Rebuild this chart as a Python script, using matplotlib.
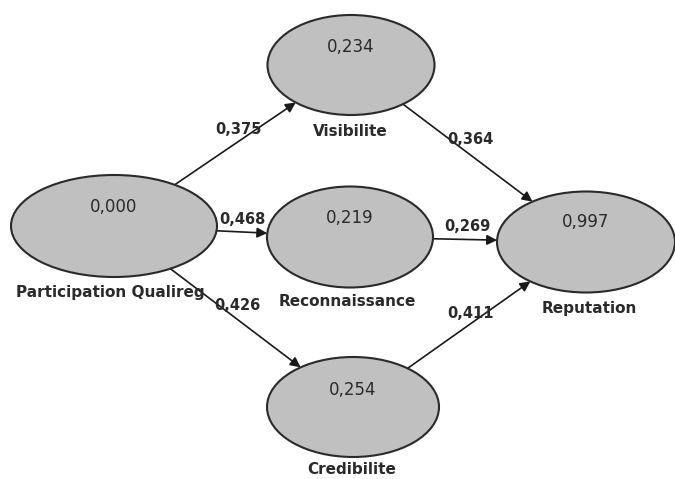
import matplotlib
matplotlib.use("Agg")
import matplotlib.pyplot as plt
from matplotlib.patches import Ellipse
import numpy as np

plt.rcParams['font.family'] = ['DejaVu Sans']

# ---- data ----
nodes = ["Participation Qualireg", "Visibilite", "Reconnaissance", "Credibilite", "Reputation"]
r2_values = ["0,000", "0,234", "0,219", "0,254", "0,997"]
path_from = ["Participation Qualireg", "Participation Qualireg", "Participation Qualireg",
             "Visibilite", "Reconnaissance", "Credibilite"]
path_to = ["Visibilite", "Reconnaissance", "Credibilite", "Reputation", "Reputation", "Reputation"]
path_coefs = ["0,375", "0,468", "0,426", "0,364", "0,269", "0,411"]

# ---- layout (pixel coordinates) ----
centers = {"Participation Qualireg": (114, 226), "Visibilite": (351, 65),
           "Reconnaissance": (350, 237), "Credibilite": (353, 407), "Reputation": (586, 242)}
sizes = {"Participation Qualireg": (206, 102), "Visibilite": (167, 100),
         "Reconnaissance": (166, 101), "Credibilite": (172, 100), "Reputation": (178, 101)}
value_dy = {"Participation Qualireg": -19, "Visibilite": -18, "Reconnaissance": -19,
            "Credibilite": -17, "Reputation": -20}
label_pos = {"Participation Qualireg": (110, 292), "Visibilite": (350, 131),
             "Reconnaissance": (347, 302), "Credibilite": (352, 470), "Reputation": (589, 308)}
coef_pos = [(238, 130), (242, 219), (237, 305), (470, 140), (467, 226), (471, 313)]

fig = plt.figure(figsize=(6.75, 4.79), dpi=100)
ax = fig.add_axes([0, 0, 1, 1])
ax.set_xlim(0, 675)
ax.set_ylim(479, 0)
ax.axis('off')

def boundary(name, direction):
    cx, cy = centers[name]
    a, b = sizes[name][0] / 2, sizes[name][1] / 2
    dx, dy = direction
    t = 1.0 / np.sqrt((dx / a) ** 2 + (dy / b) ** 2)
    return cx + dx * t, cy + dy * t

for name, val in zip(nodes, r2_values):
    cx, cy = centers[name]
    w, h = sizes[name]
    ax.add_patch(Ellipse((cx, cy), w, h, facecolor='#c0c0c0', edgecolor='#2a2a2a', lw=1.5, zorder=2))
    ax.text(cx, cy + value_dy[name], val, ha='center', va='center', fontsize=12, color='#2a2a2a', zorder=3)
    lx, ly = label_pos[name]
    ax.text(lx, ly, name, ha='center', va='center', fontsize=11, fontweight='bold', color='#2a2a2a', zorder=3)

for src, dst, coef, (tx, ty) in zip(path_from, path_to, path_coefs, coef_pos):
    sx, sy = centers[src]
    ex, ey = centers[dst]
    d = (ex - sx, ey - sy)
    p0 = boundary(src, d)
    p1 = boundary(dst, (-d[0], -d[1]))
    ax.annotate('', xy=p1, xytext=p0,
                arrowprops=dict(arrowstyle='-|>', color='#1a1a1a', lw=1.2,
                                mutation_scale=15, shrinkA=0, shrinkB=0), zorder=1)
    ax.text(tx, ty, coef, ha='center', va='center', fontsize=10.5, fontweight='bold', color='#2a2a2a', zorder=4)

fig.savefig('out.png', dpi=100, facecolor='white')
